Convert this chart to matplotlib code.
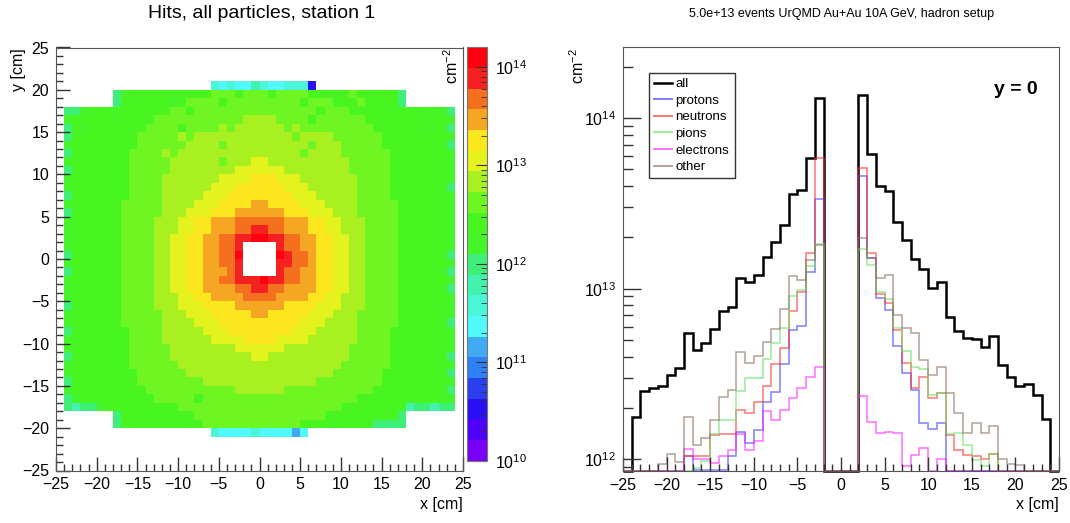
import numpy as np
import matplotlib
matplotlib.use("Agg")
import matplotlib.pyplot as plt
from matplotlib.colors import ListedColormap, LogNorm
from matplotlib.lines import Line2D
from matplotlib.ticker import MultipleLocator, LogLocator, NullFormatter

plt.rcParams['font.family'] = ['Liberation Sans', 'DejaVu Sans']
plt.rcParams['mathtext.fontset'] = 'custom'
plt.rcParams['mathtext.rm'] = 'Liberation Sans'
plt.rcParams['mathtext.it'] = 'Liberation Sans:italic'
plt.rcParams['mathtext.bf'] = 'Liberation Sans:bold'

# ---- left: hit density map, 1x1 cm cells, x from -24 to 24, rows from y=21 down to y=-21
# one char per cell = colour band of the z scale ('0'-'9' bands 0-9, 'a'-'j' bands 10-19, '.' empty)
map_rows = [
    "..................7676687667772.................",
    "......9abbbbbbbbbbcccbcc" "cbccccbbbbbcbbbbb9......",
    "......9bbbbbbabccccbcccc" "cccccbcccbbbcbbbb9......",
    "99abbbbbbbbbbccbcccccccc" "cccccccbcccbbbbbbbbbaba9",
    "abbbbbabbbbcccccccccccdd" "ddccccbccccccbbbbbbbbbba",
    "9babbbbbbbccccbccccdcddd" "dddcdcccccccccbbbbbbbab9",
    "9bbbbbbbbcccccdcdddddddd" "ddddcddddccccccbbbbbbbba",
    "abbbbbbbbccccccddddcdddd" "ddddddcdddcccccbbbbbbbb9",
    "9bbbbbbbccccdcdddddddddd" "dddddcddddccccccbbbbbbba",
    "abbbbbbbcccccddddddcddde" "eddddddddddcccccbbbbbbba",
    "9bbbbbbbcccccddddddddeee" "eeeddddddddcccccbbbbbbba",
    "abbbbbbbccccdddddddeeeef" "ffeeedddddddccccbbbbbbba",
    "abbbbbbbccccddddddeeefff" "fffeeeddddddccccbbbbbbb9",
    "9bbbbbbbccccdddddeeeffff" "ffffeeedddddccccbbbbbbba",
    "abbbbbbcccccddddeeeffffg" "gffffeeeddddcccccbbbbbba",
    "9bbbbbbcccccdddeeefffggg" "gggfffeeedddcccccbbbbbba",
    "abbbbbbccccdddeeffggghhh" "hhhgggffeedddccccbbbbbba",
    "abbbbbbccccdddeeffggghhi" "ihhgggffeedddccccbbbbbba",
    "abbbbbbccccddeeffgghhiij" "jiihhggffeeddccccbbbbbba",
    "abbbbbbccccddeeffgghhi.." "..ihhggffeeddccccbbbbbba",
    "9bbbbbbccccddeeffgghhj.." "..jihhgffeeddccccbbbbbb9",
    "abbbbbbccccddeeffgghhi.." "..iihhgffeeddccccbbbbbba",
    "9bbbbbbccccddeeffggghi.." "..ihhggffeeddccccbbbbbb9",
    "abbbbbbccccddeeffgghhiii" "jiihhggffeeddccccbbbbbba",
    "abbbbbbccccddeeffgggghhi" "ihhggggffeeddccccbbbbbb9",
    "abbbbbbccccdddeeffgggghh" "hhggggffeedddccccbbbbbba",
    "9bbbbbbccccdddeeeffffggg" "gggffffeeedddccccbbbbbba",
    "abbbbbbcccccdddeeefffffg" "gfffffeeedddcccccbbbbbba",
    "abbbbbbcccccddddeeefffff" "fffffeeeddddcccccbbbbbb9",
    "9bbbbbbbccccdddddeeeffff" "ffffeeedddddccccbbbbbbba",
    "abbbbbbbccccddddddeeeeff" "ffeeeeddddddccccbbbbbbba",
    "abbbbbbbcccccddddddddeee" "eeeddddddddcccccbbbbbbba",
    "9bbbbbbbcccccdddddddddde" "eddddddddddcccccbbbbbbb9",
    "abbbbbbbccccccdddddddddd" "ddddddddddccccccbbbbbbba",
    "abbbbbbbbccccccddddddddd" "dddddddddccccccbbbbbbbb9",
    "9bbbbbbbbccccccccddddddd" "dddddddccccccccbbbbbbbba",
    "abbbbbbbbbcccccccccccddd" "dddcccccccccccbbbbbbbbb9",
    "9abbbbbbbbbcccccbccccccc" "ccccccccccccbbbbbbbbbbba",
    "9899abbbbbbbbbcccccccccc" "ccccccccccbbbbbbbb899899",
    "......9bbbbbbbbbcccccccc" "ccccccccbbbbbbbbb9......",
    "......9bbbbbbbbbbccccccc" "cccccbbbbbbbbb9999......",
    "..................766667666656..................",
]
band_colors = ["#7a00f5", "#5000f5", "#2a10f5", "#2a40f0", "#3080f5",
               "#40aaf2", "#50fafa", "#4af5d8", "#44f2b0", "#3ef07a",
               "#45f52a", "#48f520", "#6ef522", "#a8f020", "#e4f21e",
               "#fce61e", "#f5a623", "#f5701e", "#f52020", "#ff0010"]
z_log_lo, z_log_hi = 10.0, 14.2

# ---- right: y = 0 slice, 1 cm bins from -25 to 25, units of 1e12 cm^-2 (0 = empty)
bins = np.arange(-25, 26)
all_hits = [0, 1.78, 2.51, 2.61, 2.69, 3.12, 3.44, 5.53, 4.36, 4.83,
            5.78, 7.35, 7.85, 11.5, 11.0, 12.1, 15.3, 18.7, 23.7, 36.0,
            37.9, 58.7, 132, 0, 0, 0, 0, 136, 61.5, 40.1,
            37.6, 24.5, 19.3, 14.9, 13.0, 10.1, 11.0, 6.85, 5.65, 5.13,
            5.06, 4.57, 5.28, 3.57, 3.03, 2.69, 2.77, 2.38, 1.72, 0]
protons = [0, 0, 0, 0, 0, 0, 0, 1.05, 0.87, 0.87,
           0.87, 0.87, 1.04, 1.44, 1.25, 1.48, 2.18, 2.49, 3.63, 5.69,
           6.03, 12.6, 33.7, 0, 0, 0, 0, 45.9, 15.1, 8.79,
           7.52, 4.62, 3.19, 2.53, 1.63, 1.50, 1.64, 0, 0, 0,
           0, 0, 0, 0, 0, 0, 0, 0, 0, 0]
neutrons = [0, 0, 0, 0, 0, 0, 0, 1.04, 1.04, 1.04,
            1.38, 1.40, 1.41, 1.95, 1.86, 2.18, 2.69, 3.63, 4.47, 7.35,
            9.55, 16.1, 58.7, 0, 0, 0, 0, 50.9, 16.1, 9.31,
            8.22, 5.69, 3.66, 2.61, 3.05, 2.28, 2.44, 1.39, 1.14, 1.06,
            1.04, 1.00, 1.07, 0, 0, 0, 0, 0, 0, 0]
pions = [0, 0, 0, 0, 0, 0, 0, 0, 0.89, 0.98,
         1.41, 1.70, 1.70, 2.51, 2.99, 2.99, 3.89, 4.79, 5.89, 9.02,
         9.77, 13.5, 18.2, 0, 0, 0, 0, 17.1, 13.8, 9.62,
         8.67, 5.86, 4.29, 3.49, 3.37, 2.38, 2.44, 1.41, 1.43, 1.21,
         0.99, 0.91, 1.08, 0, 0, 0, 0, 0, 0, 0]
electrons = [0, 0, 0, 0, 0, 0, 0, 1.15, 1.00, 1.00,
             0.95, 1.04, 1.14, 1.41, 1.14, 1.28, 1.91, 1.70, 1.95, 2.29,
             2.61, 3.05, 3.49, 0, 0, 0, 0, 2.35, 1.66, 1.43,
             1.45, 1.43, 0.91, 1.06, 1.16, 0, 1.01, 0, 0, 0,
             0, 0, 0, 0, 0, 0, 0, 0, 0, 0]
other = [0, 0, 0, 0, 0.94, 1.07, 0.97, 1.76, 1.21, 1.33,
         1.71, 2.33, 2.53, 4.27, 3.69, 4.04, 4.84, 5.79, 7.59, 11.8,
         11.3, 14.8, 18.1, 0, 0, 0, 0, 19.8, 15.1, 11.5,
         12.1, 7.02, 5.86, 5.48, 3.83, 3.12, 3.49, 2.44, 1.86, 1.42,
         1.64, 1.42, 1.56, 1.01, 0.94, 0.93, 0, 0, 0, 0]
series = [("all", all_hits, "black"), ("protons", protons, "#3a3aff"),
          ("neutrons", neutrons, "#ff2a2a"), ("pions", pions, "#66e066"),
          ("electrons", electrons, "#ff22ff"), ("other", other, "#8c6e5c")]

bad = [i for i, r in enumerate(map_rows) if len(r) != 48]
if bad:
    raise SystemExit("bad rows %s" % [(i, len(map_rows[i])) for i in bad])

codes = "0123456789abcdefghij"
n_band = len(band_colors)
step = (z_log_hi - z_log_lo) / n_band
z = np.full((len(map_rows), 48), np.nan)
for i, row in enumerate(map_rows):
    for j, ch in enumerate(row):
        if ch != ".":
            z[i, j] = 10 ** (z_log_lo + (codes.index(ch) + 0.5) * step)
z = np.ma.masked_invalid(z[::-1])

W, H = 1070, 523
fig = plt.figure(figsize=(W / 100, H / 100), dpi=100)
ax1 = fig.add_axes([56 / W, 52.5 / H, 407 / W, 423 / H])
cax = fig.add_axes([467 / W, 62.3 / H, 20 / W, 413.4 / H])
ax2 = fig.add_axes([623 / W, 52.3 / H, 436 / W, 423.4 / H])

cmap = ListedColormap(band_colors)
norm = LogNorm(vmin=10 ** z_log_lo, vmax=10 ** z_log_hi)
mesh = ax1.pcolormesh(np.arange(-24, 25), np.arange(-21, 22), z,
                      cmap=cmap, norm=norm)
ax1.set_xlim(-25, 25)
ax1.set_ylim(-25, 25)
for ax in (ax1, ax2):
    ax.xaxis.set_major_locator(MultipleLocator(5))
    ax.xaxis.set_minor_locator(MultipleLocator(1))
    ax.tick_params(which="both", direction="in", top=False, right=False,
                   labelsize=11.5, color="#333333", width=1)
    ax.tick_params(which="major", length=10, pad=5)
    ax.tick_params(which="minor", length=5)
    for sp in ax.spines.values():
        sp.set_color("#555555")
ax1.yaxis.set_major_locator(MultipleLocator(5))
ax1.yaxis.set_minor_locator(MultipleLocator(1))

cb = fig.colorbar(mesh, cax=cax)
cb.outline.set_edgecolor("#777777")
cb.set_ticks([1e10, 1e11, 1e12, 1e13, 1e14])
cax.yaxis.set_minor_locator(LogLocator(base=10, subs=range(2, 10)))
cax.yaxis.set_minor_formatter(NullFormatter())
cax.tick_params(which="both", direction="in", right=True, left=False,
                labelsize=11.5, color="#333333")
cax.tick_params(which="major", length=8, pad=6)
cax.tick_params(which="minor", length=4)

fig.text(262 / W, 1 - 13 / H, "Hits, all particles, station 1",
         ha="center", va="center", fontsize=14)
fig.text(463 / W, 1 - 505 / H, "x [cm]", ha="right", va="center", fontsize=11.5)
fig.text(18 / W, 1 - 48 / H, "y [cm]", ha="center", va="top",
         rotation=90, fontsize=11.5)
fig.text(452 / W, 1 - 48 / H, "cm$^{-2}$", ha="center", va="top",
         rotation=90, fontsize=11.5)

# right panel
y_lo, y_hi = 8.57e11, 2.6e14
for k, (name, vals, color) in enumerate(series):
    v = np.clip(np.array(vals) * 1e12, y_lo, None)
    if k == 0:
        ax2.stairs(v, bins, baseline=None, color=color, lw=1.8, clip_on=False)
    else:
        ax2.stairs(v, bins, baseline=None, color=color, lw=1.1, alpha=0.65,
                   clip_on=False)
ax2.set_yscale("log")
ax2.set_xlim(-25, 25)
ax2.set_ylim(y_lo, y_hi)
ax2.yaxis.set_major_locator(LogLocator(base=10))
ax2.yaxis.set_minor_locator(LogLocator(base=10, subs=range(2, 10)))
ax2.yaxis.set_minor_formatter(NullFormatter())
ax2.tick_params(axis="y", which="major", length=13)
ax2.tick_params(axis="y", which="minor", length=7)

handles = [Line2D([], [], color=c, lw=1.8 if n == "all" else 1.4,
                  alpha=1 if n == "all" else 0.65) for n, _, c in series]
leg = ax2.legend(handles, [n for n, _, _ in series], loc="upper left",
                 bbox_to_anchor=(0.06, 0.94), fontsize=9.5, handlelength=1.3,
                 handletextpad=0.3, labelspacing=0.33, borderpad=0.4,
                 fancybox=False, framealpha=1, borderaxespad=0)
leg.get_frame().set_edgecolor("#333333")
leg.get_frame().set_linewidth(1.0)

ax2.text(0.9, 0.9, "y = 0", transform=ax2.transAxes, ha="center",
         va="center", fontsize=14, fontweight="bold")
fig.text(842 / W, 1 - 14 / H, "5.0e+13 events UrQMD Au+Au 10A GeV, hadron setup",
         ha="center", va="center", fontsize=9)
fig.text(1059 / W, 1 - 505 / H, "x [cm]", ha="right", va="center", fontsize=11.5)
fig.text(578 / W, 1 - 48 / H, "cm$^{-2}$", ha="center", va="top",
         rotation=90, fontsize=11.5)

fig.savefig("out.png", dpi=100)
